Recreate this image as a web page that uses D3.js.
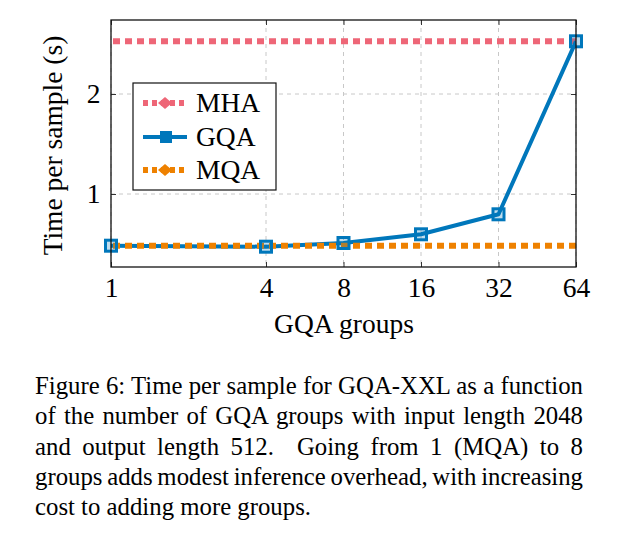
<!DOCTYPE html>
<html><head><meta charset="utf-8">
<script src="https://cdn.jsdelivr.net/npm/d3@7"></script>
<style>body{margin:0;background:#fff}svg{display:block}</style>
</head><body>
<script>
const groups = [1, 4, 8, 16, 32, 64];
const gqaTime = [0.483, 0.473, 0.51, 0.597, 0.797, 2.527];
const mhaTime = 2.527;
const mqaTime = 0.483;
const xTicks = [1, 4, 8, 16, 32, 64];
const yTicks = [1, 2];
const seriesNames = ["MHA", "GQA", "MQA"];
const seriesColors = ["#EE6677", "#0077BB", "#EE8100"];
const captionLines = [
  "Figure 6: Time per sample for GQA-XXL as a function",
  "of the number of GQA groups with input length 2048",
  "and output length 512.  Going from 1 (MQA) to 8",
  "groups adds modest inference overhead, with increasing",
  "cost to adding more groups."
];

const W = 617, H = 560;
const svg = d3.select("body").append("svg").attr("width", W).attr("height", H);
const font = "Liberation Serif, Times New Roman, serif";
const FS = 27.5;
const L = 111, R = 576, T = 20, B = 267;
const x = d3.scaleLog().base(2).domain([1, 64]).range([L, R]);
const y = d3.scaleLinear().domain([0.27, 2.74]).range([B, T]);

// grid
const grid = svg.append("g").attr("stroke", "#c8c8c8").attr("stroke-width", 1).attr("stroke-dasharray", "4,4");
xTicks.forEach(t => grid.append("line").attr("x1", x(t)).attr("x2", x(t)).attr("y1", T).attr("y2", B));
yTicks.forEach(t => grid.append("line").attr("x1", L).attr("x2", R).attr("y1", y(t)).attr("y2", y(t)));

// axes with inward ticks
const xAxisB = d3.axisBottom(x).tickValues(xTicks).tickFormat(d3.format("d")).tickSizeInner(-5).tickSizeOuter(0).tickPadding(10);
const gx = svg.append("g").attr("transform", `translate(0,${B})`).call(xAxisB);
const xAxisT = d3.axisTop(x).tickValues(xTicks).tickFormat("").tickSizeInner(-5).tickSizeOuter(0);
const gxt = svg.append("g").attr("transform", `translate(0,${T})`).call(xAxisT);
const yAxisL = d3.axisLeft(y).tickValues(yTicks).tickFormat(d3.format("d")).tickSizeInner(-5).tickSizeOuter(0).tickPadding(10.5);
const gy = svg.append("g").attr("transform", `translate(${L},0)`).call(yAxisL);
const yAxisR = d3.axisRight(y).tickValues(yTicks).tickFormat("").tickSizeInner(-5).tickSizeOuter(0);
const gyr = svg.append("g").attr("transform", `translate(${R},0)`).call(yAxisR);
[gx, gxt, gy, gyr].forEach(g => {
  g.select(".domain").remove();
  g.selectAll(".tick line").attr("stroke", "#333").attr("stroke-width", 1);
  g.selectAll("text").attr("font-family", font).attr("font-size", FS).attr("fill", "#000");
});

// clip
svg.append("clipPath").attr("id", "clip").append("rect").attr("x", L).attr("y", T).attr("width", R - L).attr("height", B - T);
const plot = svg.append("g").attr("clip-path", "url(#clip)");

plot.append("line").attr("x1", L + 2).attr("x2", R).attr("y1", y(mhaTime)).attr("y2", y(mhaTime))
  .attr("stroke", seriesColors[0]).attr("stroke-width", 6).attr("stroke-dasharray", "7,5");
const line = d3.line().x((d, i) => x(groups[i])).y(d => y(d));
plot.append("path").datum(gqaTime).attr("d", line).attr("fill", "none")
  .attr("stroke", seriesColors[1]).attr("stroke-width", 4).attr("stroke-linejoin", "round");
plot.append("line").attr("x1", L + 2).attr("x2", R).attr("y1", y(mqaTime)).attr("y2", y(mqaTime))
  .attr("stroke", seriesColors[2]).attr("stroke-width", 6).attr("stroke-dasharray", "7,5");
svg.append("g").selectAll("rect").data(gqaTime).join("rect")
  .attr("x", (d, i) => x(groups[i]) - 5.5).attr("y", d => y(d) - 5.5)
  .attr("width", 11).attr("height", 11)
  .attr("fill", seriesColors[1]).attr("fill-opacity", 0.25)
  .attr("stroke", seriesColors[1]).attr("stroke-width", 3);

// frame
svg.append("rect").attr("x", L).attr("y", T).attr("width", R - L).attr("height", B - T)
  .attr("fill", "none").attr("stroke", "#111").attr("stroke-width", 1.3);

// legend
const lg = svg.append("g");
lg.append("rect").attr("x", 133).attr("y", 83).attr("width", 143).attr("height", 107)
  .attr("fill", "#fff").attr("stroke", "#111").attr("stroke-width", 1.2);
const rowsY = [103, 137, 170];
seriesNames.forEach((name, i) => {
  const cy = rowsY[i];
  if (i === 1) {
    lg.append("line").attr("x1", 143).attr("x2", 187).attr("y1", cy).attr("y2", cy)
      .attr("stroke", seriesColors[i]).attr("stroke-width", 4);
    lg.append("rect").attr("x", 160).attr("y", cy - 6).attr("width", 12).attr("height", 12)
      .attr("fill", seriesColors[i]);
  } else {
    lg.append("line").attr("x1", 143).attr("x2", 187).attr("y1", cy).attr("y2", cy)
      .attr("stroke", seriesColors[i]).attr("stroke-width", 6).attr("stroke-dasharray", "5,4");
    lg.append("path").attr("d", `M${158},${cy} L${165},${cy - 6} L${172},${cy} L${165},${cy + 6} Z`)
      .attr("fill", seriesColors[i]);
  }
  lg.append("text").attr("x", 196).attr("y", cy + 9).text(name)
    .attr("font-family", font).attr("font-size", FS).attr("fill", "#000");
});

// axis labels
svg.append("text").attr("x", 344).attr("y", 333).attr("text-anchor", "middle")
  .attr("font-family", font).attr("font-size", FS).text("GQA groups");
svg.append("text").attr("transform", `translate(62,145.5) rotate(-90)`).attr("text-anchor", "middle")
  .attr("font-family", font).attr("font-size", FS).text("Time per sample (s)");

// caption: slightly condensed, justified via word spacing
const cap = svg.append("g");
const capW = 548, capX = 35;
const texts = captionLines.map((ln, i) => cap.append("text")
  .attr("y", 394 + i * 30.3)
  .attr("font-family", font).attr("font-size", 26).attr("fill", "#000")
  .attr("xml:space", "preserve").style("white-space", "pre").text(ln));
const w0 = texts[0].node().getComputedTextLength();
const s = Math.min(1, capW / w0);
texts.forEach((t, i) => {
  t.attr("transform", `scale(${s},1)`).attr("x", capX / s);
  if (i < captionLines.length - 1) {
    const ln = captionLines[i];
    const w = t.node().getComputedTextLength();
    const spaces = (ln.match(/ /g) || []).length;
    t.attr("word-spacing", (capW / s - w) / spaces);
  }
});
</script>
</body></html>
